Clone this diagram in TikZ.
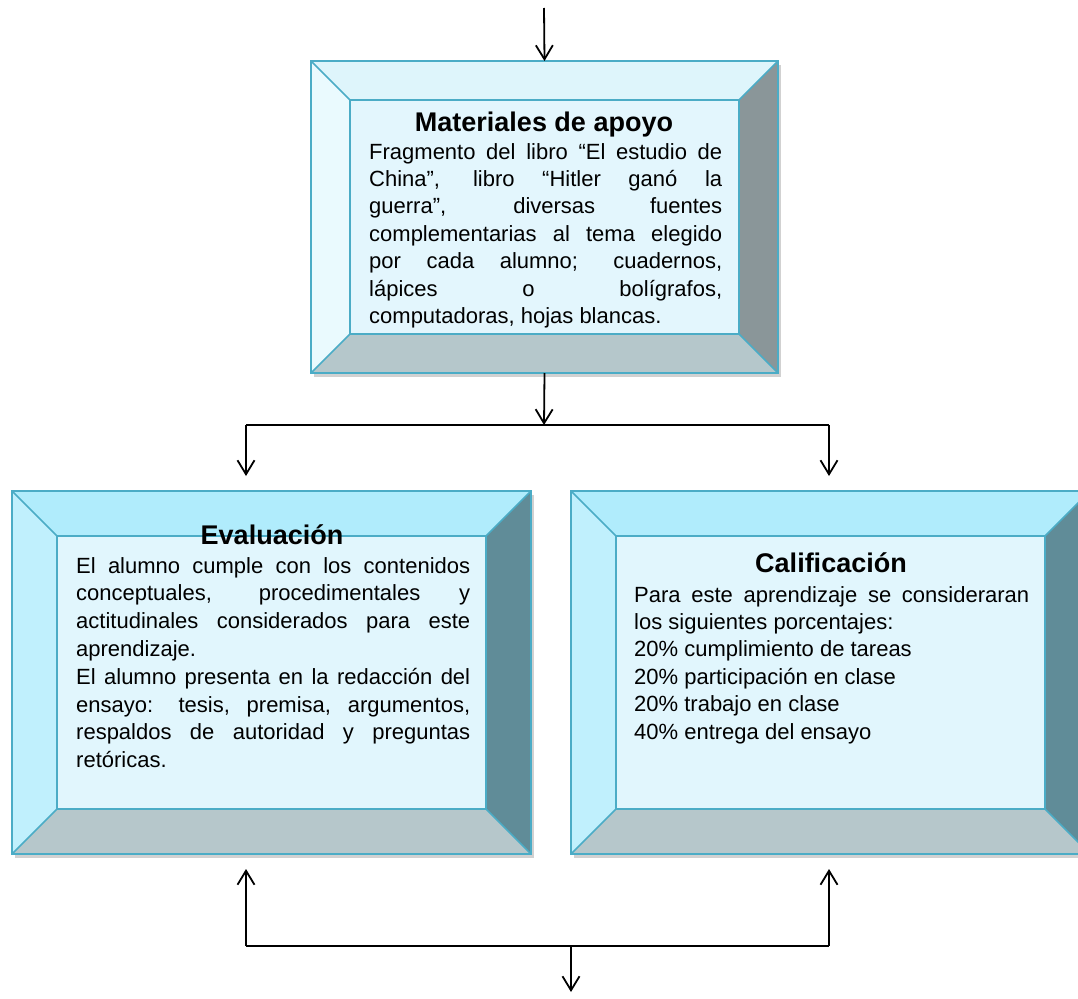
\documentclass[tikz,border=0pt]{standalone}
\usepackage{fontspec}
\setmainfont{Liberation Sans}
\usetikzlibrary{calc,arrows.meta}

\definecolor{edge}{RGB}{75,172,198}
% pale panel (top)
\definecolor{paleTop}{RGB}{222,245,251}
\definecolor{paleLeft}{RGB}{234,250,254}
\definecolor{paleRight}{RGB}{138,150,153}
\definecolor{paleBottom}{RGB}{181,199,203}
\definecolor{paleFace}{RGB}{227,246,253}
% cyan panels (bottom row)
\definecolor{cyanTop}{RGB}{176,236,252}
\definecolor{cyanLeft}{RGB}{192,240,253}
\definecolor{cyanRight}{RGB}{96,140,152}
\definecolor{cyanBottom}{RGB}{182,199,203}
\definecolor{cyanFace}{RGB}{225,246,253}

% no hyphenation, accept widely spaced justified lines
\hyphenpenalty=10000
\exhyphenpenalty=10000
\tolerance=10000
\hbadness=10000
\emergencystretch=20pt

% bevelled panel drawn around a named node:
% #1 node, #2 bevel depth, #3 top, #4 left, #5 right, #6 bottom, #7 face
\newcommand\bevelpanel[7]{%
  \fill[black,opacity=.18] ($(#1.north west)+(3,4)$) rectangle ($(#1.south east)+(3,4)$);
  \coordinate (#1-inw) at ($(#1.north west)+(#2,#2)$);
  \coordinate (#1-ine) at ($(#1.north east)+(-#2,#2)$);
  \coordinate (#1-ise) at ($(#1.south east)+(-#2,-#2)$);
  \coordinate (#1-isw) at ($(#1.south west)+(#2,-#2)$);
  \fill[#3] (#1.north west) -- (#1.north east) -- (#1-ine) -- (#1-inw) -- cycle;
  \fill[#4] (#1.north west) -- (#1-inw) -- (#1-isw) -- (#1.south west) -- cycle;
  \fill[#5] (#1.north east) -- (#1.south east) -- (#1-ise) -- (#1-ine) -- cycle;
  \fill[#6] (#1.south west) -- (#1-isw) -- (#1-ise) -- (#1.south east) -- cycle;
  \filldraw[fill=#7,draw=edge,line width=1.6pt] (#1-inw) rectangle (#1-ise);
  \draw[edge,line width=1.6pt] (#1.north west) -- (#1-inw)
    (#1.north east) -- (#1-ine) (#1.south east) -- (#1-ise) (#1.south west) -- (#1-isw);
  \draw[edge,line width=1.6pt] (#1.north west) rectangle (#1.south east);
}

\tikzset{
  panel/.style={anchor=north west,inner sep=0pt,outer sep=0pt,draw=none},
  heading/.style={anchor=base,inner sep=0pt,font=\fontsize{27}{32}\selectfont\bfseries},
  bodytext/.style={anchor=base west,inner sep=0pt,align=justify,
    font=\fontsize{22}{27.4}\selectfont},
  flow/.style={line width=1.8pt,-{Straight Barb[length=14pt,width=17pt,line width=1.8pt]}},
  wire/.style={line width=1.8pt},
}

\begin{document}
\begin{tikzpicture}[x=1pt,y=-1pt]
\useasboundingbox (0,0) rectangle (1078,998);
\clip (0,0) rectangle (1078,998);

% panels
\node[panel,minimum width=467pt,minimum height=312pt] (mat) at (311,61) {};
\node[panel,minimum width=519pt,minimum height=363pt] (eval) at (12,491) {};
\node[panel,minimum width=519pt,minimum height=363pt] (calif) at (571,491) {};

\bevelpanel{mat}{39}{paleTop}{paleLeft}{paleRight}{paleBottom}{paleFace}
\bevelpanel{eval}{45}{cyanTop}{cyanLeft}{cyanRight}{cyanBottom}{cyanFace}
\bevelpanel{calif}{45}{cyanTop}{cyanLeft}{cyanRight}{cyanBottom}{cyanFace}

% panel texts
\node[heading] (matT) at (544,131) {Materiales de apoyo};
\node[bodytext,text width=353pt] (matB) at (369,159) {Fragmento del libro “El estudio de\linebreak
China”, libro “Hitler ganó la\linebreak
guerra”, diversas fuentes\linebreak
complementarias al tema elegido\linebreak
por cada alumno; cuadernos,\linebreak
lápices o bolígrafos,\linebreak
computadoras, hojas blancas.};

\node[heading] (evalT) at (272,544) {Evaluación};
\node[bodytext,text width=394pt,font=\fontsize{22}{27.8}\selectfont] (evalB) at (76,573) {El alumno cumple con los contenidos\linebreak
conceptuales, procedimentales y\linebreak
actitudinales considerados para este\linebreak
aprendizaje.\par
El alumno presenta en la redacción del\linebreak
ensayo: tesis, premisa, argumentos,\linebreak
respaldos de autoridad y preguntas\linebreak
retóricas.};

\node[heading] (califT) at (831,572) {Calificación};
\node[bodytext,text width=395pt] (califB) at (634,602) {Para este aprendizaje se consideraran\linebreak
los siguientes porcentajes:\par
20\% cumplimiento de tareas\par
20\% participación en clase\par
20\% trabajo en clase\par
40\% entrega del ensayo};

% connector points
\coordinate (src) at (544,8);
\coordinate (split) at (544,425);
\coordinate (splitL) at (246,425);
\coordinate (splitR) at (829,425);
\coordinate (evalIn) at (246,476);
\coordinate (califIn) at (829,476);
\coordinate (evalOut) at (246,869);
\coordinate (califOut) at (829,869);
\coordinate (joinL) at (246,946);
\coordinate (joinR) at (829,946);
\coordinate (join) at (571,946);
\coordinate (sink) at (571,992);

% connectors
\draw[flow] (src) -- (mat.north);
\draw[flow] (mat.south) -- (split);
\draw[wire] (splitL) -- (splitR);
\draw[flow] (splitL) -- (evalIn);
\draw[flow] (splitR) -- (califIn);
\draw[wire] (joinL) -- (joinR);
\draw[flow] (joinL) -- (evalOut);
\draw[flow] (joinR) -- (califOut);
\draw[flow] (join) -- (sink);
\end{tikzpicture}
\end{document}
